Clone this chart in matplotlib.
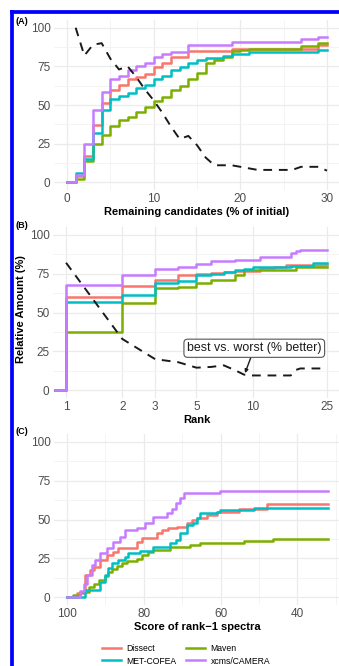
import matplotlib
matplotlib.use("Agg")
import matplotlib.pyplot as plt
from matplotlib.lines import Line2D
import numpy as np

plt.rcParams['font.family'] = ['Liberation Sans', 'DejaVu Sans']
plt.rcParams['axes.unicode_minus'] = False

# ---- data ----
tools = ["Dissect", "Maven", "MET-COFEA", "xcms/CAMERA"]
colors = ["#F8766D", "#7CAE00", "#00BFC4", "#C77CFF"]

# (A) share of compounds kept vs. remaining candidates (% of initial)
remaining = list(range(0, 31))
a_dissect = [0, 4, 17, 37, 51, 59.5, 63, 66.5, 68, 70, 74.5, 77, 81, 81, 85, 85, 85, 85, 85,
             86.5, 86.5, 86.5, 86.5, 86.5, 86.5, 86.5, 86.5, 86.5, 86.5, 88.5, 88.5]
a_maven = [0, 2, 14, 25, 30.5, 36.5, 40, 42.3, 45.5, 48.8, 52.7, 55.3, 59.6, 62, 67, 71, 77, 79, 81,
           85, 85.5, 86, 86, 86, 86, 86, 86, 88, 88, 90, 90]
a_metcofea = [0, 6, 15, 32, 47, 54, 56, 58, 61, 63, 66.5, 69, 72.5, 74.5, 77, 79, 80.5, 80.5, 81.5,
              83, 83, 84, 84, 84, 84, 84, 84, 84, 84, 85.5, 85.5]
a_xcms = [0, 5, 25, 47, 58.5, 66.5, 69, 72.5, 75.5, 77, 81, 83, 84.5, 84.5, 89, 89, 89, 89, 89,
          90.5, 90.5, 90.5, 90.5, 90.5, 90.5, 90.5, 90.5, 92.5, 92.5, 94, 94]
a_best_x = list(range(1, 31))
a_best = [100, 82, 89, 90, 80, 73, 75, 68, 60, 53, 45, 36, 28, 30, 24, 16, 11, 11, 11, 10,
          9, 8, 8, 8, 8, 8, 10, 10, 10, 7.5]

# (B) share of compounds found within a given rank
ranks = [0.87] + list(range(1, 26))
b_dissect = [0, 60, 67, 71, 74, 75, 75.5, 76, 76.5, 77, 77, 78.5, 78.5, 79, 79, 80.5, 80.5,
             80.5, 80.5, 80.5, 80.5, 80.5, 80.5, 80.5, 80.5, 80.5]
b_maven = [0, 37.5, 56, 65.5, 66.5, 69, 71, 71, 74, 77.5, 77.5, 77.5, 77.5, 77.5, 77.5, 77.5,
           77.5, 79.5, 79.5, 79.5, 79.5, 79.5, 79.5, 79.5, 79.5, 79.5]
b_metcofea = [0, 57, 61, 69, 70, 74, 75, 76, 77.5, 78, 79, 79.5, 79.5, 79.5, 79.5, 79.5, 80,
              80, 80, 80, 80, 82, 82, 82, 82, 82]
b_xcms = [0, 68, 74, 78, 79.5, 81, 83, 83, 84, 84, 84, 85.5, 85.5, 85.5, 85.5, 85.5, 88, 89.5,
          90.5, 90.5, 90.5, 90.5, 90.5, 90.5, 90.5, 90.5]
b_best_x = list(range(1, 26))
b_best = [82, 33, 20, 18, 14.5, 15, 16, 13, 10, 9.5, 9.5, 9.5, 9.5, 9.5, 9.5, 9.5, 13, 14,
          14, 14, 14, 14, 14, 14, 14]

# (C) share of compounds whose rank-1 spectrum scores above a threshold
c_dissect_s = [100, 97.5, 95.3, 94, 93, 91.5, 89.7, 87.9, 86.6, 81.8, 80.5, 76.6, 75.3, 73.6,
               71.4, 68.8, 67.5, 66.2, 63.6, 61, 55.3, 47.9, 32]
c_dissect = [0, 2.6, 14.2, 17.4, 19.6, 23.9, 27.1, 29.2, 31.4, 35.7, 37.8, 41, 43.2, 44.3,
             45.4, 47.5, 49.7, 50.8, 52.9, 55, 56.6, 60, 60]
c_maven_s = [100, 98.4, 96.5, 94.4, 93.1, 91.8, 90.1, 89.2, 88.3, 87, 85.7, 84.4, 81.8, 80.5,
             78.8, 77.5, 73.1, 67.9, 65.3, 54, 46.2, 32]
c_maven = [0, 1.5, 3.4, 6.7, 8.8, 11, 13.5, 16.3, 18.3, 20.4, 21.9, 23.2, 24.9, 27.1, 29.2,
           30.7, 32, 33.5, 34.6, 36.1, 37.4, 37.4]
c_metcofea_s = [100, 95.3, 91.4, 90.1, 89.2, 88.3, 86.6, 84.9, 84, 81, 77.5, 73.1, 71.5, 70.5,
                68.8, 67.1, 66.2, 65.3, 61, 60.1, 51.4, 32]
c_metcofea = [0, 4.5, 9.9, 14.2, 18.5, 21.7, 23.9, 26, 28.6, 29.9, 32.5, 34.6, 37, 41, 46.5,
              47.5, 50.8, 54, 55, 56, 57.2, 57.2]
c_xcms_s = [100, 96.5, 95.7, 94.7, 93.6, 92.7, 91.4, 89.6, 87.9, 86.2, 84.9, 81.8, 79.7, 77.5,
            74, 72.7, 71.5, 70.5, 69.5, 60.1, 32]
c_xcms = [0, 4, 8.8, 14.2, 20.6, 23.9, 28.2, 31.4, 35.7, 38.9, 43.2, 44.3, 47.5, 51.8, 54,
          56.6, 60.4, 63.7, 66.9, 68.4, 68.4]

W, H = 339, 666
fig = plt.figure(figsize=(W / 100, H / 100), dpi=100)


def px_axes(l, t, r, b):
    return fig.add_axes([l / W, 1 - b / H, (r - l) / W, (b - t) / H])


def minimal(ax):
    # ggplot theme_minimal look
    for s in ax.spines.values():
        s.set_visible(False)
    ax.set_axisbelow(True)
    ax.grid(True, which='major', color='#EBEBEB', lw=0.9)
    ax.grid(True, which='minor', color='#F3F3F3', lw=0.6)
    ax.tick_params(which='both', length=0, labelsize=8.5, labelcolor='#4D4D4D', pad=2.5)
    ax.set_ylim(-5, 105)
    ax.set_yticks([0, 25, 50, 75, 100])
    ax.set_yticks([12.5, 37.5, 62.5, 87.5], minor=True)


lw = 1.8
dash = dict(color='#1a1a1a', lw=1.4, dashes=(4.5, 3.5))

# ---- (A) ----
axA = px_axes(54, 20, 340, 190)
minimal(axA)
for vals, c in zip([a_dissect, a_maven, a_metcofea, a_xcms], colors):
    axA.plot(remaining, vals, drawstyle='steps-post', color=c, lw=lw)
axA.plot(a_best_x, a_best, **dash)
axA.set_xlim(-1.5, 31.5)
axA.set_xticks([0, 10, 20, 30])
axA.set_xticks([5, 15, 25], minor=True)
axA.set_xlabel("Remaining candidates (% of initial)", fontsize=8, fontweight='bold', labelpad=1)

# ---- (B) ----
axB = px_axes(53, 227, 340, 398)
minimal(axB)
axB.set_xscale('log')
for vals, c in zip([b_dissect, b_maven, b_metcofea, b_xcms], colors):
    axB.plot(ranks, vals, drawstyle='steps-post', color=c, lw=lw)
axB.plot(b_best_x, b_best, **dash)
axB.set_xlim(10 ** -0.07, 10 ** 1.468)
axB.set_xticks([1, 2, 3, 5, 10, 25])
axB.set_xticklabels(['1', '2', '3', '5', '10', '25'])
axB.xaxis.set_minor_locator(matplotlib.ticker.NullLocator())
axB.set_xlabel("Rank", fontsize=8, fontweight='bold', labelpad=1)
axB.annotate("best vs. worst (% better)", xy=(9.1, 11), xytext=(10.2, 27),
             ha='center', va='center', fontsize=8.9, color='#1a1a1a',
             bbox=dict(boxstyle='round,pad=0.25,rounding_size=0.3', fc='white', ec='#555555', lw=0.8),
             arrowprops=dict(arrowstyle='-|>', color='#1a1a1a', lw=1.0, mutation_scale=5,
                             shrinkA=0, shrinkB=0))

# ---- (C) ----
axC = px_axes(54, 434, 341, 605)
minimal(axC)
series_c = [(c_dissect_s, c_dissect), (c_maven_s, c_maven),
            (c_metcofea_s, c_metcofea), (c_xcms_s, c_xcms)]
handles = []
for (s, v), c, name in zip(series_c, colors, tools):
    h, = axC.plot(s, v, drawstyle='steps-post', color=c, lw=lw, label=name)
    handles.append(h)
axC.set_xlim(103.4, 28.6)
axC.set_xticks([100, 80, 60, 40])
axC.set_xticks([90, 70, 50, 30], minor=True)
axC.set_xlabel("Score of rank\u22121 spectra", fontsize=8, fontweight='bold', labelpad=1)

order = [0, 2, 1, 3]
fig.legend([handles[i] for i in order], [tools[i] for i in order], ncol=2,
           loc='center', bbox_to_anchor=(186 / W, 1 - 655 / H), frameon=False,
           fontsize=6.2, handlelength=2.2, columnspacing=1.2, labelspacing=0.35,
           handletextpad=0.6, borderpad=0)

# panel tags and shared y title
for tag, y in [("(A)", 21), ("(B)", 226), ("(C)", 432)]:
    fig.text(15 / W, 1 - y / H, tag, fontsize=6.5, fontweight='bold', va='center', ha='left')
fig.text(21 / W, 1 - 309 / H, "Relative Amount (%)", rotation=90, fontsize=8,
         fontweight='bold', va='center', ha='center')

# blue frame
fig.add_artist(Line2D([12 / W, 12 / W], [0, 1 - 11.5 / H], transform=fig.transFigure,
                      color='#0000FF', lw=2.7, solid_capstyle='projecting'))
fig.add_artist(Line2D([12 / W, 1], [1 - 11.5 / H, 1 - 11.5 / H], transform=fig.transFigure,
                      color='#0000FF', lw=2.7, solid_capstyle='projecting'))

fig.savefig("out.png", dpi=100)
